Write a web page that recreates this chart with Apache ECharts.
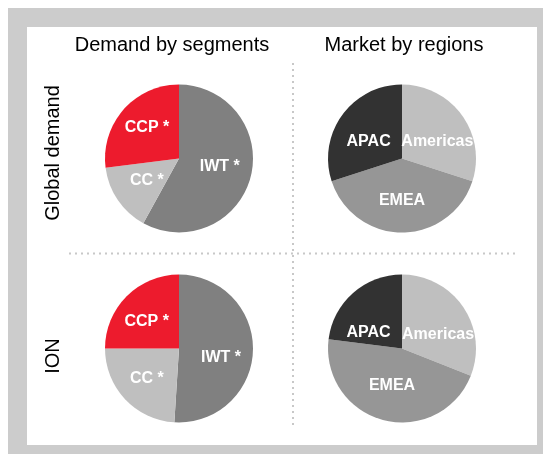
<!DOCTYPE html>
<html>
<head>
<meta charset="utf-8">
<script src="https://cdn.jsdelivr.net/npm/echarts@6/dist/echarts.min.js"></script>
<style>
  html, body { margin: 0; padding: 0; background: #fff; }
  #chart { width: 543px; height: 454px; }
</style>
</head>
<body>
<div id="chart"></div>
<script>
// column / row headings
const colTitles = ['Demand by segments', 'Market by regions'];
const rowTitles = ['Global demand', 'ION'];

// segments (clockwise from 12 o'clock)
const segNames = ['IWT *', 'CC *', 'CCP *'];
const segGlobal = [58, 15, 27];
const segIon = [51, 24, 25];
const segColors = ['#808080', '#bfbfbf', '#ed1b2d'];

// regions (clockwise from 12 o'clock)
const regNames = ['Americas', 'EMEA', 'APAC'];
const regGlobal = [30, 40, 30];
const regIon = [31, 46, 23];
const regColors = ['#bfbfbf', '#969696', '#323232'];

const myChart = echarts.init(document.getElementById('chart'));

const font = 'Arial, "Liberation Sans", sans-serif';

// small nudges so the inside labels sit where the original put them
function pie(names, values, colors, center, nudges) {
  return {
    type: 'pie',
    center: center,
    radius: 74,
    startAngle: 90,
    clockwise: true,
    silent: true,
    label: {
      show: true,
      position: 'inside',
      color: '#fff',
      fontWeight: 'bold',
      fontSize: 16,
      fontFamily: font
    },
    labelLine: { show: false },
    itemStyle: { borderWidth: 0 },
    data: names.map((n, i) => ({
      name: n,
      value: values[i],
      itemStyle: { color: colors[i] },
      label: { offset: nudges[i] }
    }))
  };
}

const dotted = { stroke: '#c8c8c8', lineWidth: 2, lineDash: [2, 4] };

const option = {
  animation: false,
  backgroundColor: '#fff',
  graphic: [
    { type: 'rect', z: -10, shape: { x: 8, y: 8, width: 535, height: 446 }, style: { fill: '#cccccc' } },
    { type: 'rect', z: -9, shape: { x: 27, y: 27, width: 510, height: 418 }, style: { fill: '#ffffff' } },
    { type: 'line', z: -5, shape: { x1: 69, y1: 253.5, x2: 517, y2: 253.5 }, style: dotted },
    { type: 'line', z: -5, shape: { x1: 293, y1: 63, x2: 293, y2: 428 }, style: dotted },
    {
      type: 'text', x: 172, y: 45,
      style: { text: colTitles[0], fontSize: 20, fontFamily: font, fill: '#000', align: 'center', verticalAlign: 'middle' }
    },
    {
      type: 'text', x: 404, y: 45,
      style: { text: colTitles[1], fontSize: 20, fontFamily: font, fill: '#000', align: 'center', verticalAlign: 'middle' }
    },
    {
      type: 'text', x: 53, y: 153, rotation: Math.PI / 2,
      style: { text: rowTitles[0], fontSize: 20, fontFamily: font, fill: '#000', align: 'center', verticalAlign: 'middle' }
    },
    {
      type: 'text', x: 53, y: 356, rotation: Math.PI / 2,
      style: { text: rowTitles[1], fontSize: 20, fontFamily: font, fill: '#000', align: 'center', verticalAlign: 'middle' }
    }
  ],
  series: [
    pie(segNames, segGlobal, segColors, [179, 158.5], [[2, -2], [1, 0], [-2, -4]]),
    pie(regNames, regGlobal, regColors, [402, 158.5], [[3, 7], [0, 2], [-1, 7]]),
    pie(segNames, segIon, segColors, [179, 348.5], [[2, 8], [-3, 3], [-4, 1]]),
    pie(regNames, regIon, regColors, [402, 348.5], [[3, 9], [0, -2], [-7, 14]])
  ]
};

myChart.setOption(option);
</script>
</body>
</html>
